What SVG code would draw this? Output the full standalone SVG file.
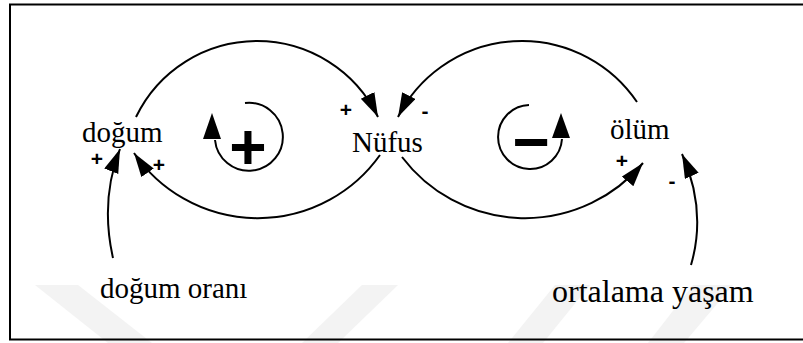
<svg xmlns="http://www.w3.org/2000/svg" width="803" height="343" viewBox="0 0 803 343">
  <style>
    .lnk{fill:none;stroke:#000;stroke-width:2}
    .lbl{font-family:"Liberation Serif","Times New Roman",serif;font-size:29px;fill:#000}
    .pol{font-family:"Liberation Sans",Arial,sans-serif;font-size:21px;font-weight:bold;fill:#000;text-anchor:middle}
    .big{font-family:"Liberation Sans",Arial,sans-serif;font-size:64px;font-weight:bold;fill:#000;text-anchor:middle}
    .wm{fill:#f3f3f3}
  </style>
  <defs>
    <marker id="arr" markerUnits="userSpaceOnUse" markerWidth="26" markerHeight="17" refX="24" refY="7.5" orient="auto">
      <path d="M0,0 L24,7.5 L0,15 z" fill="#000"/>
    </marker>
  </defs>
  <rect width="803" height="343" fill="#fff"/>
  <g id="watermark">
    <polygon class="wm" points="35,285 78,285 152,343 108,343"/>
    <polygon class="wm" points="362,285 398,285 338,343 302,343"/>
    <polygon class="wm" points="555,285 590,285 543,343 508,343"/>
    <polygon class="wm" points="693,285 733,285 684,343 648,343"/>
  </g>
  <path id="frame" d="M803,4.5 H10 V339.5 H803" fill="none" stroke="#000" stroke-width="2"/>
  <g id="connectors">
    <path class="lnk" d="M136,117 A134.3,134.3 0 0 1 378,117" marker-end="url(#arr)"/>
    <path class="lnk" d="M380,155 A150,150 0 0 1 134,153" marker-end="url(#arr)"/>
    <path class="lnk" d="M637,102 A139,139 0 0 0 398,117" marker-end="url(#arr)"/>
    <path class="lnk" d="M402,157 A154,154 0 0 0 643,163" marker-end="url(#arr)"/>
    <path class="lnk" d="M113,258 Q100,200 120,149" marker-end="url(#arr)"/>
    <path class="lnk" d="M691,265 Q707,210 682,154" marker-end="url(#arr)"/>
    <text class="pol" x="97" y="166">+</text>
    <text class="pol" x="159" y="172">+</text>
    <text class="pol" x="346" y="117">+</text>
    <text class="pol" x="425" y="118">-</text>
    <text class="pol" x="622" y="168">+</text>
    <text class="pol" x="672" y="188">-</text>
  </g>
  <g id="loop-positive">
    <path class="lnk" d="M245,103 A34,34 0 1 1 215,140"/>
    <polygon points="212,113 203,139 221,139" fill="#000"/>
    <text class="big" x="248" y="169">+</text>
  </g>
  <g id="loop-negative">
    <path class="lnk" d="M529,105 A32,32 0 1 0 562,139"/>
    <polygon points="561,113 552,138 570,138" fill="#000"/>
    <text class="big" x="531" y="164">−</text>
  </g>
  <g id="dogum"><text class="lbl" x="82" y="142">doğum</text></g>
  <g id="nufus"><text class="lbl" x="352" y="152">Nüfus</text></g>
  <g id="olum"><text class="lbl" x="610" y="139">ölüm</text></g>
  <g id="dogum-orani"><text class="lbl" x="100" y="298">doğum oranı</text></g>
  <g id="ortalama-yasam"><text class="lbl" x="552" y="302" style="font-size:32px">ortalama yaşam</text></g>
</svg>
